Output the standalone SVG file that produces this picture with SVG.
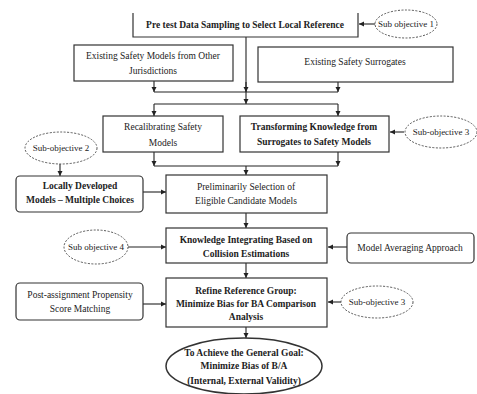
<svg xmlns="http://www.w3.org/2000/svg" width="477" height="394" viewBox="0 0 477 394" font-family="'Liberation Serif', 'Times New Roman', Times, serif">
<defs>
<marker id="ah" markerWidth="6" markerHeight="6" refX="5" refY="3" orient="auto" markerUnits="userSpaceOnUse">
<path d="M0,0.5 L5,3 L0,5.5 Z" fill="#222"/>
</marker>
</defs>
<style>
text{font-family:'Liberation Serif','Times New Roman',Times,serif;font-size:9.5px;fill:#222;text-anchor:middle}
.b{font-weight:bold}
.s{font-size:9px}
.box{fill:#fff;stroke:#333;stroke-width:1.2}
.ell{fill:#fff;stroke:#555;stroke-width:1;stroke-dasharray:2,1.5}
.goal{fill:#fff;stroke:#333;stroke-width:1.5}
.c{fill:none;stroke:#222;stroke-width:1.1}
.ca{fill:none;stroke:#222;stroke-width:1.1;marker-end:url(#ah)}
</style>
<rect width="477" height="394" fill="#fff"/>
<g id="connectors">
<line class="ca" x1="376" y1="24" x2="359" y2="24"/>
<line class="c" x1="246" y1="37" x2="246" y2="92"/>
<line class="ca" x1="154" y1="81" x2="154" y2="92"/>
<line class="ca" x1="338" y1="82" x2="338" y2="92"/>
<line class="ca" x1="246" y1="82" x2="246" y2="92"/>
<line class="c" x1="154" y1="92" x2="338" y2="92"/>
<line class="ca" x1="246" y1="92" x2="246" y2="104"/>
<path class="c" d="M154,104 H338"/>
<line class="ca" x1="154" y1="104" x2="154" y2="116"/>
<line class="ca" x1="338" y1="104" x2="338" y2="116"/>
<line class="ca" x1="404" y1="132" x2="390" y2="132"/>
<line class="ca" x1="60" y1="164" x2="60" y2="176"/>
<line class="ca" x1="154" y1="152" x2="154" y2="166"/>
<line class="ca" x1="338" y1="152" x2="338" y2="166"/>
<path class="c" d="M154,166 H338"/>
<line class="ca" x1="246" y1="166" x2="246" y2="175"/>
<line class="ca" x1="143" y1="192" x2="166" y2="192"/>
<line class="ca" x1="246" y1="213" x2="246" y2="228"/>
<line class="ca" x1="128" y1="247" x2="166" y2="247"/>
<line class="ca" x1="347" y1="247" x2="328" y2="247"/>
<line class="ca" x1="246" y1="263" x2="246" y2="278"/>
<line class="ca" x1="143" y1="304" x2="166" y2="304"/>
<line class="ca" x1="341" y1="302" x2="328" y2="302"/>
<line class="ca" x1="246" y1="327" x2="246" y2="338"/>
</g>
<g id="n_pretest">
<path class="box" d="M133,13 V37 H358 V13" fill="none"/>
<text class="b" x="245" y="28">Pre test Data Sampling to Select Local Reference</text>
</g>
<g id="n_sub1">
<ellipse class="ell" cx="406" cy="24" rx="31" ry="14"/>
<text class="s" x="406" y="27">Sub objective 1</text>
</g>
<g id="n_existing_models">
<rect class="box" x="74" y="45" width="159" height="36"/>
<text x="153" y="59">Existing Safety Models from Other</text>
<text x="153" y="74">Jurisdictions</text>
</g>
<g id="n_surrogates">
<rect class="box" x="258" y="47" width="195" height="35"/>
<text x="355" y="65">Existing Safety Surrogates</text>
</g>
<g id="n_recal">
<rect class="box" x="103" y="116" width="120" height="36"/>
<text x="163" y="130">Recalibrating Safety</text>
<text x="163" y="146">Models</text>
</g>
<g id="n_transform">
<rect class="box" x="240" y="116" width="149" height="36"/>
<text class="b" x="314" y="130">Transforming Knowledge from</text>
<text class="b" x="314" y="145">Surrogates to Safety Models</text>
</g>
<g id="n_sub3a">
<ellipse class="ell" cx="441" cy="132" rx="36" ry="16"/>
<text class="s" x="441" y="135">Sub-objective 3</text>
</g>
<g id="n_sub2">
<ellipse class="ell" cx="61" cy="148" rx="36" ry="16"/>
<text class="s" x="61" y="151">Sub-objective 2</text>
</g>
<g id="n_local">
<rect class="box" x="16" y="176" width="127" height="36" rx="4"/>
<text class="b" x="80" y="189">Locally Developed</text>
<text class="b" x="80" y="203">Models – Multiple Choices</text>
</g>
<g id="n_prelim">
<rect class="box" x="166" y="175" width="161" height="38"/>
<text x="246" y="190">Preliminarily Selection of</text>
<text x="246" y="204">Eligible Candidate Models</text>
</g>
<g id="n_sub4">
<ellipse class="ell" cx="96" cy="247" rx="32" ry="17"/>
<text class="s" x="96" y="250">Sub objective 4</text>
</g>
<g id="n_knowledge">
<rect class="box" x="166" y="228" width="161" height="35"/>
<text class="b" x="246" y="243">Knowledge Integrating Based on</text>
<text class="b" x="246" y="257">Collision Estimations</text>
</g>
<g id="n_averaging">
<rect class="box" x="347" y="233" width="127" height="30" rx="4"/>
<text x="410" y="251">Model Averaging Approach</text>
</g>
<g id="n_psm">
<rect class="box" x="16" y="283" width="127" height="37" rx="4"/>
<text x="80" y="298">Post-assignment Propensity</text>
<text x="80" y="312">Score Matching</text>
</g>
<g id="n_refine">
<rect class="box" x="166" y="278" width="161" height="49"/>
<text class="b" x="246" y="294">Refine Reference Group:</text>
<text class="b" x="246" y="307">Minimize Bias for BA Comparison</text>
<text class="b" x="246" y="320">Analysis</text>
</g>
<g id="n_sub3b">
<ellipse class="ell" cx="377" cy="302" rx="36" ry="16"/>
<text class="s" x="377" y="305">Sub-objective 3</text>
</g>
<g id="n_goal">
<ellipse class="goal" cx="244" cy="366" rx="78" ry="28"/>
<text class="b" x="244" y="356">To Achieve the General Goal:</text>
<text class="b" x="244" y="369">Minimize Bias of B/A</text>
<text class="b" x="244" y="384">(Internal, External Validity)</text>
</g>
</svg>
